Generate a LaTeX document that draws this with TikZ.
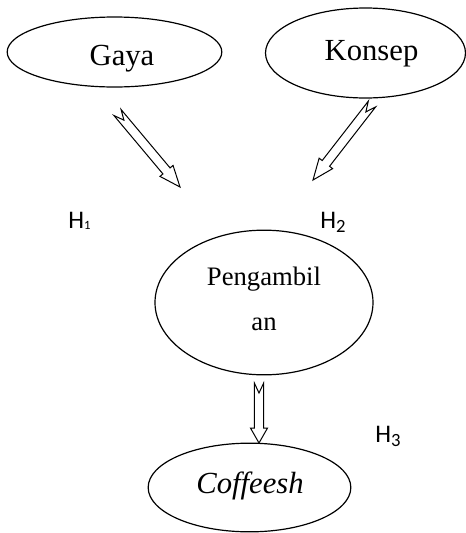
\documentclass[tikz,border=0pt]{standalone}
\usepackage{fontspec}
\setmainfont{Liberation Serif}
\newfontfamily\hfont{Carlito}
\usetikzlibrary{shapes.geometric,calc}

\tikzset{
  oval/.style={draw, ellipse, line width=0.9pt, inner sep=0pt},
  blockarrow/.style={draw, line width=0.75pt, line join=miter, fill=white},
  bigtxt/.style={inner sep=0pt, font=\fontsize{23}{26}\selectfont},
  hyp/.style={inner sep=0pt, anchor=base west, font=\hfont\fontsize{19}{22}\selectfont}
}

% notched block arrow: #1 tail, #2 tip, #3 head length
\newcommand{\notcharrow}[3]{%
  \coordinate (na) at ($(#1)!7.5pt!(#2)$);
  \coordinate (hb) at ($(#2)!#3!(#1)$);
  \draw[blockarrow] ($(#1)!3.5pt!90:(#2)$) -- (na) -- ($(#1)!3.5pt!-90:(#2)$)
    -- ($(hb)!3.5pt!-90:(#2)$) -- ($(hb)!6.4pt!-90:(#2)$) -- (#2)
    -- ($(hb)!6.4pt!90:(#2)$) -- ($(hb)!3.5pt!90:(#2)$) -- cycle;
}

\begin{document}
\begin{tikzpicture}[x=0.75pt,y=0.75pt,yscale=-1,xscale=1]
\path[use as bounding box] (0,0) rectangle (466,533);
%Shape: Ellipse [gaya]
\node[oval, minimum width=161pt, minimum height=52.5pt] (gaya) at (114.5,52) {};
%Shape: Ellipse [konsep]
\node[oval, minimum width=150pt, minimum height=67.5pt] (konsep) at (365.5,53) {};
%Shape: Ellipse [pengambilan]
\node[oval, minimum width=163.5pt, minimum height=108.5pt] (ambil) at (264,302.5) {};
%Shape: Ellipse [coffeesh]
\node[oval, minimum width=152pt, minimum height=66.5pt] (coffeesh) at (249.5,487.5) {};
% Text Node
\node[bigtxt, anchor=base] (gayaT) at (122,65) {Gaya};
% Text Node
\node[bigtxt, anchor=base] (konsepT) at (371.5,60) {Konsep};
% Text Node
\node[inner sep=0pt, align=center, font=\fontsize{20}{33.75}\selectfont] (ambilT) at (264,299) {Pengambil\\an};
% Text Node
\node[bigtxt, anchor=base] (coffeeshT) at (250,493) {\itshape Coffeesh};
%Arrow ends
\coordinate (a1s) at (117.5,112.5);
\coordinate (a1e) at (180,187);
\coordinate (a2s) at (372,104);
\coordinate (a2e) at (313,180);
\coordinate (a3s) at (259,383);
\coordinate (a3e) at (259,443);
%Block Arrows
\notcharrow{a1s}{a1e}{15.75pt}
\notcharrow{a2s}{a2e}{15.75pt}
\notcharrow{a3s}{a3e}{11.25pt}
% Text Node
\node[hyp] (h1) at (68,228) {H\raisebox{-1pt}{\fontsize{9.5}{10}\selectfont 1}};
% Text Node
\node[hyp] (h2) at (320,228) {H\raisebox{-3pt}{\fontsize{14}{15}\selectfont 2}};
% Text Node
\node[hyp] (h3) at (375,442) {H\raisebox{-3pt}{\fontsize{14}{15}\selectfont 3}};
\end{tikzpicture}
\end{document}
